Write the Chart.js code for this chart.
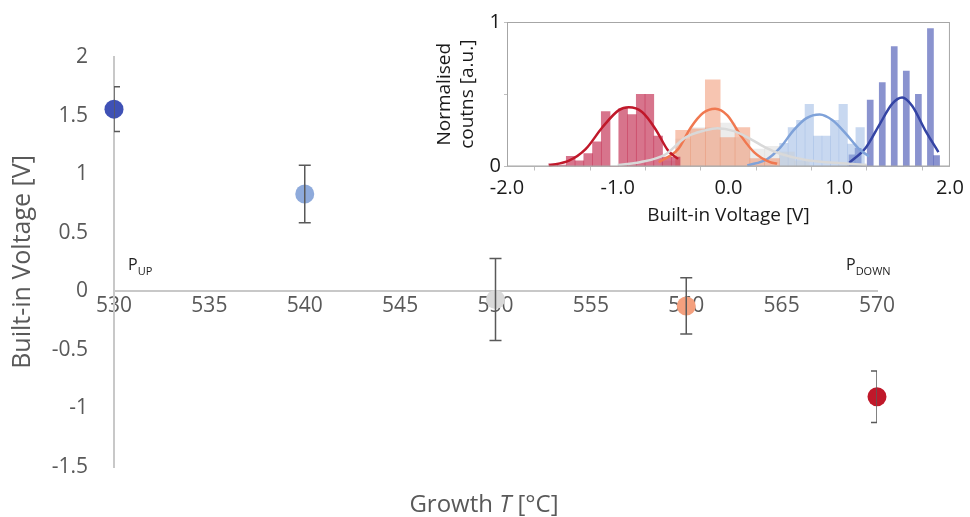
<!DOCTYPE html>
<html>
<head>
<meta charset="utf-8">
<script src="https://cdn.jsdelivr.net/npm/chart.js@4.4.1/dist/chart.umd.min.js"></script>
<style>
  html, body { margin: 0; padding: 0; background: #fff; }
  #wrap { position: relative; width: 970px; height: 517px; font-family: 'Open Sans', sans-serif; color: #595959; }
  #main { position: absolute; left: 0; top: 0; }
  #inset { position: absolute; left: 420px; top: 0; }
  .plabel { position: absolute; font-size: 16px; color: #222; line-height: 1; }
  .plabel sub { font-size: 11px; vertical-align: -5px; }
  #xtitle { position: absolute; left: 334px; width: 300px; top: 489px; text-align: center; font-size: 24px; line-height: 1.2; }
</style>
</head>
<body>
<div id="wrap">
  <canvas id="main" width="970" height="517"></canvas>
  <canvas id="inset" width="550" height="235"></canvas>
  <div class="plabel" style="left:128px; top:256px;">P<sub>UP</sub></div>
  <div class="plabel" style="left:846px; top:256px;">P<sub>DOWN</sub></div>
  <div id="xtitle">Growth <i>T</i> [°C]</div>
</div>
<script>
// main chart: built-in voltage vs growth temperature
const growthT = [530, 540, 550, 560, 570];
const builtInV = [1.555, 0.83, -0.07, -0.125, -0.90];
const errV = [0.19, 0.245, 0.35, 0.24, 0.22];
const pointColors = ['#3f51b5', '#8eaadb', '#d9d9d9', '#f4a07e', '#c0182a'];
const xTicks = [530, 535, 540, 545, 550, 555, 560, 565, 570];
const yTicks = [-1.5, -1, -0.5, 0, 0.5, 1, 1.5, 2];

// inset histograms (bin centres in V, normalised counts, bin width in V)
const redBins = [-1.583, -1.504, -1.425, -1.346, -1.267, -1.188, -1.109, -1.030, -0.951, -0.872, -0.793, -0.714, -0.635, -0.556, -0.477];
const redCounts = [0.02, 0.01, 0.07, 0.04, 0.09, 0.17, 0.38, 0, 0.40, 0.36, 0.50, 0.50, 0.21, 0.065, 0.065];
const redWidth = 0.079;
const salmonBins = [-0.41, -0.276, -0.142, -0.008, 0.126, 0.26, 0.394];
const salmonCounts = [0.25, 0.26, 0.60, 0.20, 0.27, 0.055, 0.055];
const salmonWidth = 0.134;
const greyBins = [-0.543, -0.409, -0.275, -0.141, -0.007, 0.127, 0.261, 0.395, 0.529, 0.663];
const greyCounts = [0.04, 0.19, 0.27, 0.27, 0.30, 0.20, 0.12, 0.14, 0.10, 0.04];
const greyWidth = 0.134;
const lightBlueBins = [0.50, 0.577, 0.653, 0.730, 0.806, 0.883, 0.959, 1.036, 1.112, 1.189];
const lightBlueCounts = [0.16, 0.27, 0.32, 0.43, 0.21, 0.21, 0.32, 0.43, 0.155, 0.27];
const lightBlueWidth = 0.0765;
const blueBins = [1.116, 1.171, 1.225, 1.280, 1.334, 1.389, 1.443, 1.497, 1.552, 1.606, 1.661, 1.715, 1.770, 1.824, 1.879];
const blueCounts = [0.08, 0.125, 0, 0.46, 0, 0.58, 0, 0.83, 0, 0.66, 0, 0.50, 0, 0.955, 0.075];
const blueWidth = 0.0545;

// fitted curves as [V, counts]
const redFit = [[-1.62, 0.007], [-1.44, 0.04], [-1.29, 0.12], [-1.14, 0.27], [-0.99, 0.39], [-0.90, 0.41], [-0.78, 0.377], [-0.66, 0.26], [-0.545, 0.11], [-0.455, 0.053]];
const salmonFit = [[-0.63, 0.03], [-0.455, 0.12], [-0.34, 0.27], [-0.23, 0.37], [-0.12, 0.40], [-0.01, 0.354], [0.11, 0.215], [0.23, 0.10], [0.375, 0.03], [0.44, 0.02]];
const greyFit = [[-1.0, 0.01], [-0.8, 0.03], [-0.57, 0.083], [-0.39, 0.2], [-0.21, 0.25], [-0.1, 0.265], [0.05, 0.245], [0.2, 0.19], [0.35, 0.125], [0.46, 0.09], [0.7, 0.045], [1.06, 0.02], [1.25, 0.01]];
const lightBlueFit = [[0.17, 0.007], [0.348, 0.05], [0.467, 0.13], [0.587, 0.25], [0.705, 0.335], [0.824, 0.36], [0.94, 0.32], [1.06, 0.227], [1.18, 0.12], [1.27, 0.07]];
const blueFit = [[1.09, 0.025], [1.24, 0.13], [1.36, 0.285], [1.48, 0.435], [1.569, 0.477], [1.658, 0.42], [1.777, 0.25], [1.896, 0.1]];
const insetXTicks = [-2, -1.5, -1, -0.5, 0, 0.5, 1, 1.5, 2];
const insetYTicks = [0, 0.5, 1];

const FONT = "'Open Sans', sans-serif";

const errorBars = {
  id: 'errorBars',
  afterDatasetsDraw(chart) {
    const { ctx, chartArea, scales: { x, y } } = chart;
    ctx.save();
    ctx.beginPath();
    ctx.rect(chartArea.left, chartArea.top - 20, chartArea.right - chartArea.left, chartArea.bottom - chartArea.top + 40);
    ctx.clip();
    ctx.strokeStyle = '#595959';
    ctx.lineWidth = 1.5;
    growthT.forEach((t, i) => {
      const px = x.getPixelForValue(t);
      const top = y.getPixelForValue(builtInV[i] + errV[i]);
      const bot = y.getPixelForValue(builtInV[i] - errV[i]);
      ctx.beginPath();
      ctx.moveTo(px, top); ctx.lineTo(px, bot);
      ctx.moveTo(px - 6, top); ctx.lineTo(px + 6, top);
      ctx.moveTo(px - 6, bot); ctx.lineTo(px + 6, bot);
      ctx.stroke();
    });
    ctx.restore();
  }
};

new Chart(document.getElementById('main'), {
  type: 'scatter',
  data: {
    datasets: [{
      data: growthT.map((t, i) => ({ x: t, y: builtInV[i] })),
      pointBackgroundColor: pointColors,
      pointBorderWidth: 0,
      pointRadius: 9.5,
      clip: false
    }]
  },
  options: {
    responsive: false,
    animation: false,
    layout: { padding: { left: 0, right: 93, top: 57, bottom: 50 } },
    plugins: { legend: { display: false }, tooltip: { enabled: false } },
    scales: {
      x: {
        type: 'linear', min: 530, max: 570,
        position: { y: 0 },
        grid: { display: false, drawTicks: false },
        border: { display: true, color: '#c8c8c8', width: 2 },
        ticks: { color: '#595959', font: { family: FONT, size: 21 }, padding: 2 },
        afterBuildTicks: s => { s.ticks = xTicks.map(v => ({ value: v })); },
        afterFit: s => { s.height = 0; }
      },
      y: {
        type: 'linear', min: -1.5, max: 2,
        grid: { display: false, drawTicks: false },
        border: { display: true, color: '#c8c8c8', width: 2 },
        ticks: { color: '#595959', font: { family: FONT, size: 21 }, padding: 26, callback: v => String(v) },
        afterBuildTicks: s => { s.ticks = yTicks.map(v => ({ value: v })); },
        title: { display: true, text: 'Built-in Voltage [V]', color: '#595959', font: { family: FONT, size: 25 }, padding: { top: 8, bottom: 0 } },
        afterFit: s => { s.width = 114; }
      }
    }
  },
  plugins: [errorBars]
});

// inset
const frame = {
  id: 'frame',
  afterDraw(chart) {
    const { ctx, chartArea: a } = chart;
    ctx.save();
    ctx.strokeStyle = '#a6a6a6';
    ctx.lineWidth = 1;
    ctx.strokeRect(a.left + 0.5, a.top + 0.5, a.right - a.left - 1, a.bottom - a.top - 1);
    ctx.restore();
  }
};

function hist(bins, counts, width, color) {
  return {
    type: 'bar', xAxisID: 'x', yAxisID: 'y', order: 1, grouped: false,
    data: bins.map((b, i) => ({ x: b, y: counts[i] })),
    backgroundColor: color, borderWidth: 0,
    // bar width = one bin, in pixels of the inset's voltage axis
    barThickness: c => {
      const sx = c.chart.scales.x;
      return Math.abs(sx.getPixelForValue(width) - sx.getPixelForValue(0));
    }
  };
}
function fit(points, color) {
  return {
    type: 'line', xAxisID: 'x', yAxisID: 'y', order: 0,
    data: points.map(p => ({ x: p[0], y: p[1] })),
    borderColor: color, borderWidth: 2.5, pointRadius: 0, fill: false,
    cubicInterpolationMode: 'monotone'
  };
}

new Chart(document.getElementById('inset'), {
  type: 'bar',
  data: {
    datasets: [
      hist(redBins, redCounts, redWidth, 'rgba(190,30,70,0.62)'),
      hist(salmonBins, salmonCounts, salmonWidth, 'rgba(240,140,100,0.5)'),
      hist(greyBins, greyCounts, greyWidth, 'rgba(200,200,200,0.35)'),
      hist(lightBlueBins, lightBlueCounts, lightBlueWidth, 'rgba(146,178,225,0.5)'),
      hist(blueBins, blueCounts, blueWidth, 'rgba(60,75,175,0.6)'),
      fit(greyFit, '#d9d9d9'),
      fit(redFit, '#c0182a'),
      fit(salmonFit, '#f07850'),
      fit(lightBlueFit, '#7fa2d9'),
      fit(blueFit, '#3444a4')
    ]
  },
  options: {
    responsive: false,
    animation: false,
    layout: { padding: { left: 0, right: 15, top: 22, bottom: 0 } },
    plugins: { legend: { display: false }, tooltip: { enabled: false } },
    scales: {
      x: {
        type: 'linear', min: -2, max: 2, offset: false,
        grid: { display: true, drawOnChartArea: false, drawTicks: true, tickLength: 4, color: '#bfbfbf' },
        border: { display: true, color: '#bfbfbf' },
        ticks: {
          color: '#1a1a1a', font: { family: FONT, size: 20 }, padding: 6, maxRotation: 0,
          callback: v => Number.isInteger(v) ? v.toFixed(1) : ''
        },
        afterBuildTicks: s => { s.ticks = insetXTicks.map(v => ({ value: v })); },
        title: { display: true, text: 'Built-in Voltage [V]', color: '#1a1a1a', font: { family: FONT, size: 19 }, padding: { top: 0, bottom: 8 } },
        afterFit: s => { s.height = 68.5; }
      },
      y: {
        type: 'linear', min: 0, max: 1,
        grid: { display: true, drawOnChartArea: false, drawTicks: true, tickLength: 3, color: '#bfbfbf' },
        border: { display: true, color: '#bfbfbf' },
        ticks: {
          color: '#1a1a1a', font: { family: FONT, size: 20 }, padding: 3,
          callback: v => Number.isInteger(v) ? String(v) : ''
        },
        afterBuildTicks: s => { s.ticks = insetYTicks.map(v => ({ value: v })); },
        title: { display: true, text: ['Normalised', 'coutns [a.u.]'], color: '#1a1a1a', font: { family: FONT, size: 19 }, padding: { top: 13, bottom: 0 } },
        afterFit: s => { s.width = 87; }
      }
    }
  },
  plugins: [frame]
});
</script>
</body>
</html>
